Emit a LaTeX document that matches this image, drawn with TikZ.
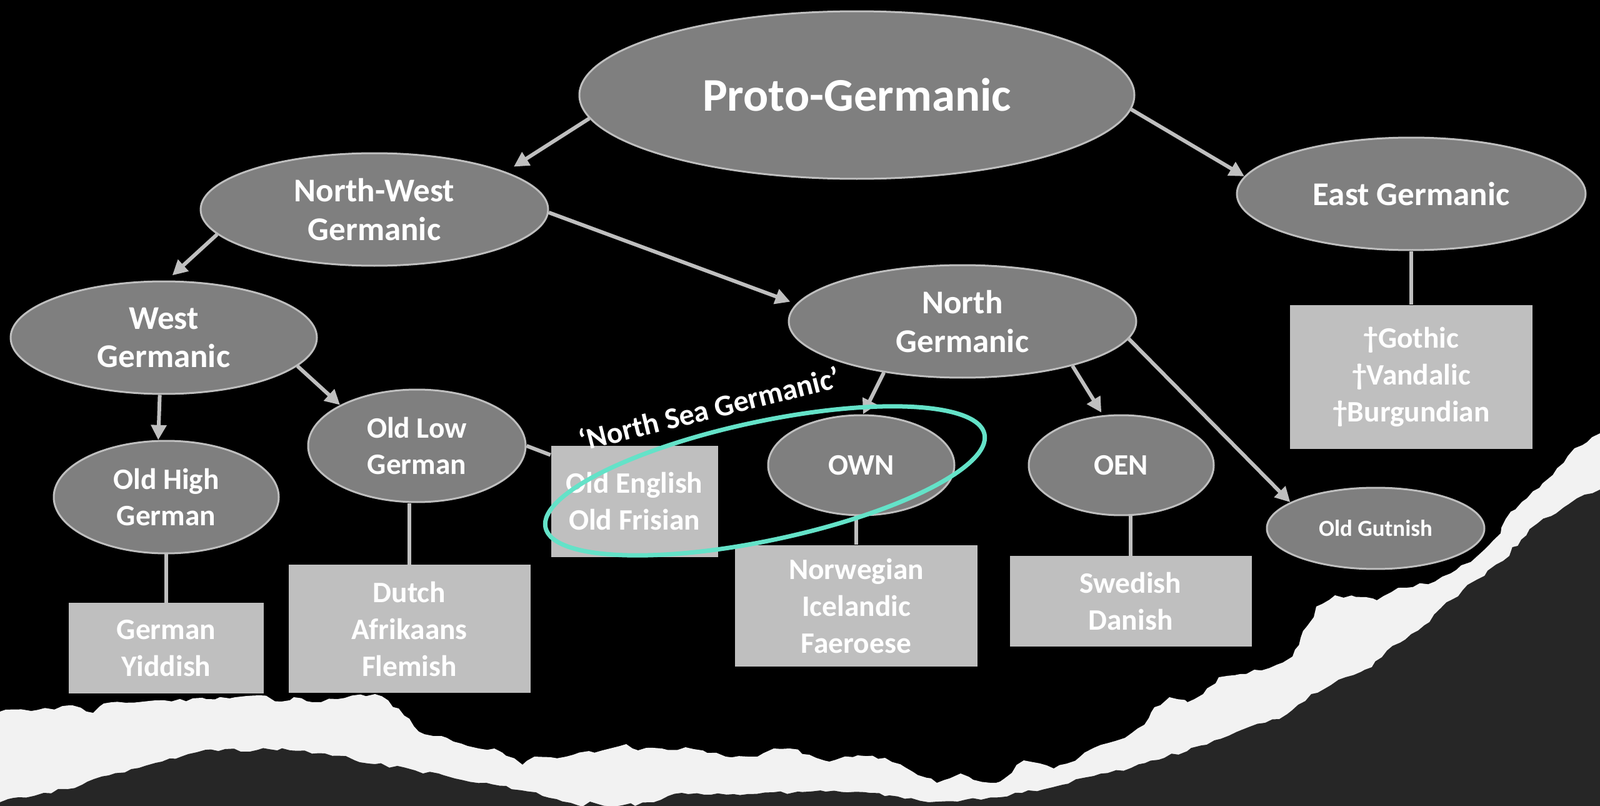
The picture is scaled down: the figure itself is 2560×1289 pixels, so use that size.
\documentclass[tikz,border=0pt]{standalone}
\usepackage{fontspec}
\setmainfont{Carlito}
\usetikzlibrary{shapes.geometric,positioning,arrows.meta,decorations.pathmorphing}
\definecolor{nodegray}{HTML}{7F7F7F}
\definecolor{leafgray}{HTML}{BFBFBF}
\definecolor{nsgteal}{RGB}{100,226,200}
\definecolor{paper}{HTML}{F2F2F2}
\definecolor{underpaper}{HTML}{262626}

\begin{document}
\begin{tikzpicture}[x=0.1mm,y=-0.1mm,>={Triangle[length=2.4mm,width=2.4mm]},on grid,
   every node/.style={text=white,font=\bfseries},
   fam/.style={ellipse,draw=leafgray,line width=0.3mm,fill=nodegray,inner sep=0pt,align=center,
     font=\fontsize{15.1}{17.6}\selectfont\bfseries,minimum width=55.6mm,minimum height=18mm},
   sub/.style={fam,font=\fontsize{13.5}{16.4}\selectfont\bfseries,minimum width=35mm},
   leaf/.style={rectangle,fill=leafgray,inner sep=0pt,align=center,
     font=\fontsize{13.5}{16.8}\selectfont\bfseries,minimum width=38.8mm},
   link/.style={draw=leafgray,line width=0.6mm},
   torn/.style={decorate,decoration={random steps,segment length=1.2mm,amplitude=0.3mm}}]
 \useasboundingbox (0,0) rectangle (2560,1289);
 \fill[black] (0,0) rectangle (2560,1289);
 % torn paper strip
 \fill[paper,torn] (-20,1138) -- (0,1138) -- (50,1137) -- (116,1128) -- (149,1140) -- (166,1125)
   -- (249,1120) -- (330,1118) -- (415,1112) -- (450,1122) -- (470,1115) -- (500,1123) -- (540,1118)
   -- (600,1110) -- (638,1133) -- (670,1170) -- (715,1180) -- (766,1197) -- (791,1197) -- (836,1223)
   -- (855,1210) -- (906,1210) -- (964,1200) -- (1002,1190) -- (1021,1200) -- (1059,1197)
   -- (1110,1198) -- (1161,1210) -- (1212,1210) -- (1238,1197) -- (1263,1197) -- (1295,1207)
   -- (1327,1218) -- (1372,1208) -- (1416,1212) -- (1448,1227) -- (1499,1252) -- (1537,1237)
   -- (1557,1247) -- (1600,1250) -- (1638,1216) -- (1686,1229) -- (1726,1212)
   -- (1750,1196) -- (1800,1180) -- (1831,1159) -- (1847,1131) -- (1871,1115) -- (1900,1123)
   -- (1925,1110) -- (1950,1083) -- (1984,1078) -- (2043,1063) -- (2068,1050) -- (2081,1020)
   -- (2102,987) -- (2106,970) -- (2136,952) -- (2203,960) -- (2237,940) -- (2296,930)
   -- (2321,917) -- (2363,890) -- (2401,853) -- (2409,830) -- (2443,797) -- (2468,773)
   -- (2502,740) -- (2519,717) -- (2560,693) -- (2580,680) -- (2580,1320)
   -- (-20,1320) -- cycle;
 \fill[underpaper,torn] (-20,1283) -- (0,1283) -- (30,1275) -- (70,1268) -- (108,1262) -- (140,1250)
   -- (174,1240) -- (210,1230) -- (249,1220) -- (290,1210) -- (315,1203) -- (360,1198) -- (400,1202)
   -- (430,1198) -- (464,1200) -- (520,1205) -- (600,1222) -- (664,1232) -- (728,1245) -- (810,1257)
   -- (868,1273) -- (932,1290) -- (944,1282) -- (983,1290) -- (1046,1283) -- (1091,1268)
   -- (1174,1270) -- (1238,1267) -- (1321,1266) -- (1423,1272) -- (1486,1283) -- (1600,1275)
   -- (1700,1255) -- (1750,1241) -- (1810,1228) -- (1863,1212) -- (1943,1184) -- (2000,1162)
   -- (2047,1150) -- (2098,1110) -- (2153,1083) -- (2195,1067) -- (2228,1033) -- (2279,1000)
   -- (2321,960) -- (2363,927) -- (2405,897) -- (2434,863) -- (2460,837) -- (2523,797)
   -- (2560,783) -- (2580,780) -- (2580,1320) -- (-20,1320) -- cycle;
 % families
 \node[fam,font=\fontsize{21.3}{25}\selectfont\bfseries,minimum width=88.8mm,minimum height=26.8mm] (pg) at (1371,152) {Proto-Germanic};
 \node[fam] (nw) [below left=18.3mm and 77.2mm of pg] {North-West\\Germanic};
 \node[fam,minimum width=55.8mm] (eg) [below right=15.8mm and 88.7mm of pg] {East Germanic};
 \node[fam,minimum width=49mm] (wg) [below left=20.5mm and 33.7mm of nw] {West\\Germanic};
 \node[fam] (ng) [below right=17.9mm and 94.1mm of nw] {North\\Germanic};
 \node[sub,minimum width=36mm] (ohg) [below right=25.5mm and 0.4mm of wg] {Old High\\German};
 \node[sub,minimum width=34.8mm] (olg) [below right=17.3mm and 40.5mm of wg] {Old Low\\German};
 \node[sub,minimum width=29.8mm,minimum height=16mm] (own) [below left=23mm and 16.2mm of ng] {OWN};
 \node[sub,minimum width=29.6mm,minimum height=16mm] (oen) [below right=23mm and 25.4mm of ng] {OEN};
 \node[sub,font=\fontsize{10.5}{12}\selectfont\bfseries,minimum width=34.8mm,minimum height=13mm] (ogut) [below right=33.1mm and 66.1mm of ng] {Old Gutnish};
 % languages
 \node[leaf,minimum height=23mm] (goth) [below=29.3mm of eg] {†Gothic\\†Vandalic\\†Burgundian};
 \node[leaf,minimum width=31.2mm,minimum height=14.5mm] (ger) [below=24.2mm of ohg] {German\\Yiddish};
 \node[leaf,minimum width=38.7mm,minimum height=20.5mm] (dutch) [below left=29.3mm and 1.2mm of olg] {Dutch\\Afrikaans\\Flemish};
 \node[leaf,minimum width=26.7mm,minimum height=17.8mm] (oe) [below right=8.9mm and 34.8mm of olg] {Old English\\Old Frisian};
 \node[leaf,minimum height=19.4mm] (norw) [below left=22.5mm and 0.8mm of own] {Norwegian\\Icelandic\\Faeroese};
 \node[leaf,minimum width=38.7mm,minimum height=14.5mm] (swed) [below right=21.8mm and 1.5mm of oen] {Swedish\\Danish};
 % branches
 \draw[link,->,shorten >=1.5mm] (pg.185) -- (nw.16);
 \draw[link,->] (pg.-3) -- (eg.174);
 \draw[link,->,shorten >=1.2mm] (nw.189) -- (wg.87);
 \draw[link,->,shorten >=1mm] (nw.-1) -- (ng.174);
 \draw[link,->] (wg.-94) -- (ohg.98);
 \draw[link,->] (wg.-12) -- (olg.152);
 \draw[link,->] (ng.213) -- (own.88);
 \draw[link,->,shorten >=0.5mm] (ng.-22) -- (oen.110);
 \draw[link,->] (ng.-6) -- (ogut.163);
 \draw[link] (olg.east) -- (oe.151);
 \draw[link] (dutch.north) -- (dutch.north |- olg.south);
 \draw[link] (ger.north) -- (ohg.south);
 \draw[link] (norw.north) -- (norw.north |- own.south);
 \draw[link] (swed.north) -- (swed.north |- oen.south);
 \draw[link] (goth.north) -- (eg.south);
 % North Sea Germanic
 \node[ellipse,draw=nsgteal,line width=0.7mm,inner sep=0pt,minimum width=71.8mm,minimum height=19mm,rotate=12] (nsg) at (1224,769) {};
 \node[font=\fontsize{13.7}{16}\selectfont\bfseries,rotate=14] (nsglabel) [above right=14.9mm and 12mm of oe] {‘North Sea Germanic’};
\end{tikzpicture}
\end{document}
